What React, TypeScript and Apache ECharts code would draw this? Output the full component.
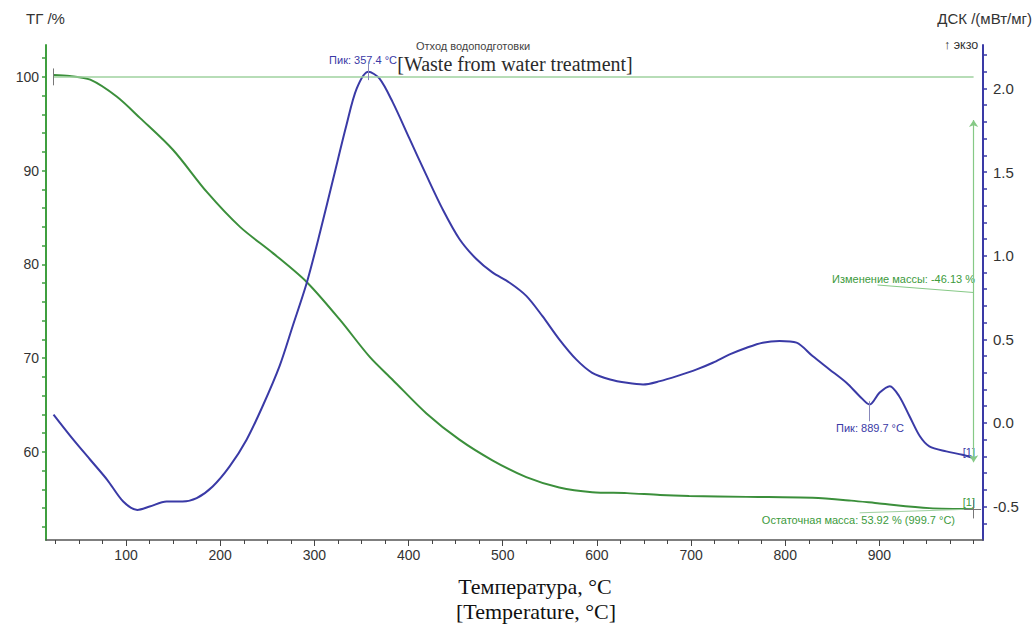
import React, { useEffect, useRef } from "react";
import * as echarts from "echarts";

// TG (mass, %) curve
const tgTemp = [23, 40, 62, 90, 115, 150, 186, 221, 256, 292, 327, 359, 383, 419, 454, 489, 525, 560, 595, 632, 667, 698, 759, 829, 870, 900, 953, 1000];
const tgMass = [100.2, 100.1, 99.7, 97.9, 95.6, 92.2, 87.7, 84.0, 81.2, 78.1, 74.1, 70.1, 67.7, 64.1, 61.3, 59.1, 57.3, 56.2, 55.7, 55.6, 55.4, 55.3, 55.2, 55.1, 54.8, 54.5, 54.0, 53.92];

// DSC (mW/mg) curve
const dscTemp = [23, 44, 62, 80, 97, 112, 125, 143, 160, 175, 192, 210, 228, 245, 263, 277, 292, 306, 320, 334, 345, 357.4, 369, 383, 401, 419, 436, 454, 472, 489, 507, 525, 542, 560, 578, 595, 614, 632, 649, 667, 685, 706, 723, 741, 759, 776, 794, 812, 829, 847, 865, 879, 889.7, 900, 911, 921, 932, 943, 953, 971, 988, 1000];
const dscHeat = [0.05, -0.10, -0.22, -0.34, -0.47, -0.52, -0.50, -0.47, -0.47, -0.45, -0.38, -0.26, -0.10, 0.10, 0.34, 0.58, 0.84, 1.14, 1.46, 1.78, 2.0, 2.10, 2.06, 1.92, 1.70, 1.48, 1.28, 1.10, 0.98, 0.90, 0.84, 0.76, 0.64, 0.50, 0.38, 0.30, 0.26, 0.24, 0.23, 0.25, 0.28, 0.32, 0.36, 0.41, 0.45, 0.48, 0.49, 0.48, 0.40, 0.32, 0.24, 0.16, 0.11, 0.18, 0.22, 0.16, 0.04, -0.08, -0.14, -0.17, -0.19, -0.21];

// axis ticks / labels
const xLabels = [100, 200, 300, 400, 500, 600, 700, 800, 900];
const xMinor = [25, 50, 75, 100, 125, 150, 175, 200, 225, 250, 275, 300, 325, 350, 375, 400, 425, 450, 475, 500, 525, 550, 575, 600, 625, 650, 675, 700, 725, 750, 775, 800, 825, 850, 875, 900, 925, 950, 975, 1000];
const tgLabels = [60, 70, 80, 90, 100];
const tgMinor = [52, 54, 56, 58, 60, 62, 64, 66, 68, 70, 72, 74, 76, 78, 80, 82, 84, 86, 88, 90, 92, 94, 96, 98, 100, 102];
const dscLabels = [-0.5, 0.0, 0.5, 1.0, 1.5, 2.0];
const dscMinor = [-0.6, -0.5, -0.4, -0.3, -0.2, -0.1, 0, 0.1, 0.2, 0.3, 0.4, 0.5, 0.6, 0.7, 0.8, 0.9, 1.0, 1.1, 1.2, 1.3, 1.4, 1.5, 1.6, 1.7, 1.8, 1.9, 2.0, 2.1, 2.2];

const GREEN = "#3b8f3b";
const LGREEN = "#9fd29f";
const BLUE = "#3a3aa6";
const SANS = "Liberation Sans, Arial, sans-serif";
const SERIF = "Liberation Serif, Times New Roman, serif";

export default function App() {
  const ref = useRef<HTMLDivElement>(null);
  useEffect(() => {
    if (!ref.current) return;
    const chart = echarts.init(ref.current, null, { renderer: "svg" });
    const X_MIN = 15, X_MAX = 1010;
    const baseX = { type: "value", min: X_MIN, max: X_MAX, splitLine: { show: false } };
    const option: any = {
      animation: false,
      backgroundColor: "#ffffff",
      grid: { left: 46, right: 53, top: 45, bottom: 88 },
      xAxis: [
        {
          ...baseX,
          position: "bottom",
          axisLine: { show: true, onZero: false, lineStyle: { color: "#555", width: 1.5 } },
          axisTick: { show: true, length: 4, customValues: xMinor, lineStyle: { color: "#444", width: 1 } },
          axisLabel: { customValues: xLabels, color: "#333", fontSize: 14, fontFamily: SANS, margin: 8 },
        },
        {
          ...baseX,
          position: "bottom",
          axisLine: { show: false, onZero: false },
          axisTick: { show: true, length: 6, customValues: xLabels, lineStyle: { color: "#444", width: 1 } },
          axisLabel: { show: false },
        },
      ],
      yAxis: [
        {
          type: "value",
          position: "left",
          min: 50.6,
          max: 103.4,
          splitLine: { show: false },
          axisLine: { show: true, onZero: false, lineStyle: { color: "#3f9f3f", width: 2 } },
          axisTick: { show: true, length: 4, customValues: tgMinor, lineStyle: { color: "#3f9f3f", width: 1.5 } },
          axisLabel: { customValues: tgLabels, color: "#333", fontSize: 14, fontFamily: SANS, margin: 7 },
        },
        {
          type: "value",
          position: "right",
          min: -0.7,
          max: 2.26,
          splitLine: { show: false },
          axisLine: { show: true, onZero: false, lineStyle: { color: BLUE, width: 2 } },
          axisTick: { show: true, length: 4, customValues: dscMinor, lineStyle: { color: BLUE, width: 1.5 } },
          axisLabel: {
            customValues: dscLabels,
            color: "#333",
            fontSize: 15,
            fontFamily: SANS,
            margin: 10,
            formatter: (v: number) => v.toFixed(1),
          },
        },
      ],
      series: [
        {
          name: "ТГ",
          type: "line",
          xAxisIndex: 0,
          yAxisIndex: 0,
          data: tgTemp.map((t, i) => [t, tgMass[i]]),
          showSymbol: false,
          smooth: 0.3,
          lineStyle: { color: GREEN, width: 2 },
          z: 3,
          markLine: {
            silent: true,
            symbol: "none",
            label: { show: false },
            lineStyle: { color: LGREEN, width: 1.5, type: "solid" },
            data: [
              [{ coord: [tgTemp[0], 100] }, { coord: [tgTemp[tgTemp.length - 1], 100] }],
              [
                { coord: [tgTemp[tgTemp.length - 1], 95.4], symbol: "arrow", symbolSize: 7, lineStyle: { color: "#86c986", width: 1.2 } },
                { coord: [tgTemp[tgTemp.length - 1], 58.9], symbol: "arrow", symbolSize: 7 },
              ],
              [
                { coord: [898, 77.8], lineStyle: { color: "#86c986", width: 1 } },
                { coord: [tgTemp[tgTemp.length - 1], 77.0] },
              ],
              [
                { coord: [879, 53.5], lineStyle: { color: "#9fcf9f", width: 1 } },
                { coord: [tgTemp[tgTemp.length - 1], 53.9] },
              ],
              [
                { coord: [tgTemp[0], 100.9], lineStyle: { color: "#777", width: 1 } },
                { coord: [tgTemp[0], 99.1] },
              ],
              [
                { coord: [tgTemp[tgTemp.length - 1], 54.9], lineStyle: { color: "#777", width: 1 } },
                { coord: [tgTemp[tgTemp.length - 1], 52.9] },
              ],
              [
                { coord: [990, 53.92], lineStyle: { color: "#777", width: 1 } },
                { coord: [1008, 53.92] },
              ],
            ],
          },
        },
        {
          name: "ДСК",
          type: "line",
          xAxisIndex: 0,
          yAxisIndex: 1,
          data: dscTemp.map((t, i) => [t, dscHeat[i]]),
          showSymbol: false,
          smooth: 0.3,
          lineStyle: { color: BLUE, width: 2 },
          z: 4,
          markLine: {
            silent: true,
            symbol: "none",
            label: { show: false },
            lineStyle: { color: "#8888bb", width: 1, type: "solid" },
            data: [
              [{ coord: [357.4, 2.16] }, { coord: [357.4, 2.05] }],
              [{ coord: [889.7, 0.13] }, { coord: [889.7, 0.01] }],
            ],
          },
        },
      ],
      graphic: [
        { type: "text", left: 26, top: 11, style: { text: "ТГ /%", fontSize: 15, fontFamily: SANS, fill: "#333" } },
        { type: "text", right: 4, top: 11, style: { text: "ДСК /(мВт/мг)", fontSize: 15, fontFamily: SANS, fill: "#333" } },
        { type: "text", left: 944, top: 38, style: { text: "↑ экзо", fontSize: 12.5, fontFamily: SANS, fill: "#333" } },
        { type: "text", x: 473, y: 46, style: { text: "Отход водоподготовки", fontSize: 11, fontFamily: SANS, fill: "#444", align: "center", verticalAlign: "middle" } },
        { type: "text", x: 515, y: 64, style: { text: "[Waste from water treatment]", fontSize: 20, fontFamily: SERIF, fill: "#2b2b2b", align: "center", verticalAlign: "middle" } },
        { type: "text", x: 397, y: 60, style: { text: "Пик: 357.4 °C", fontSize: 11, fontFamily: SANS, fill: BLUE, align: "right", verticalAlign: "middle" } },
        { type: "text", x: 870, y: 428, style: { text: "Пик: 889.7 °C", fontSize: 11, fontFamily: SANS, fill: BLUE, align: "center", verticalAlign: "middle" } },
        { type: "text", x: 975, y: 279, style: { text: "Изменение массы: -46.13 %", fontSize: 11, fontFamily: SANS, fill: "#3c9a3c", align: "right", verticalAlign: "middle" } },
        { type: "text", x: 955, y: 520, style: { text: "Остаточная масса: 53.92 % (999.7 °C)", fontSize: 11, fontFamily: SANS, fill: "#3c9a3c", align: "right", verticalAlign: "middle" } },
        { type: "text", x: 975, y: 452, style: { text: "[1]", fontSize: 11, fontFamily: SANS, fill: BLUE, align: "right", verticalAlign: "middle" } },
        { type: "text", x: 975, y: 502, style: { text: "[1]", fontSize: 11, fontFamily: SANS, fill: "#3c9a3c", align: "right", verticalAlign: "middle" } },
        { type: "text", x: 535, y: 586, style: { text: "Температура, °C", fontSize: 22, fontFamily: SERIF, fill: "#111", align: "center", verticalAlign: "middle" } },
        { type: "text", x: 536, y: 611, style: { text: "[Temperature, °C]", fontSize: 22, fontFamily: SERIF, fill: "#111", align: "center", verticalAlign: "middle" } },
      ],
    };
    chart.setOption(option);
    return () => chart.dispose();
  }, []);
  return (
    <div
      ref={ref}
      style={{ position: "fixed", left: 0, top: 0, width: 1036, height: 628, background: "#fff" }}
    />
  );
}
